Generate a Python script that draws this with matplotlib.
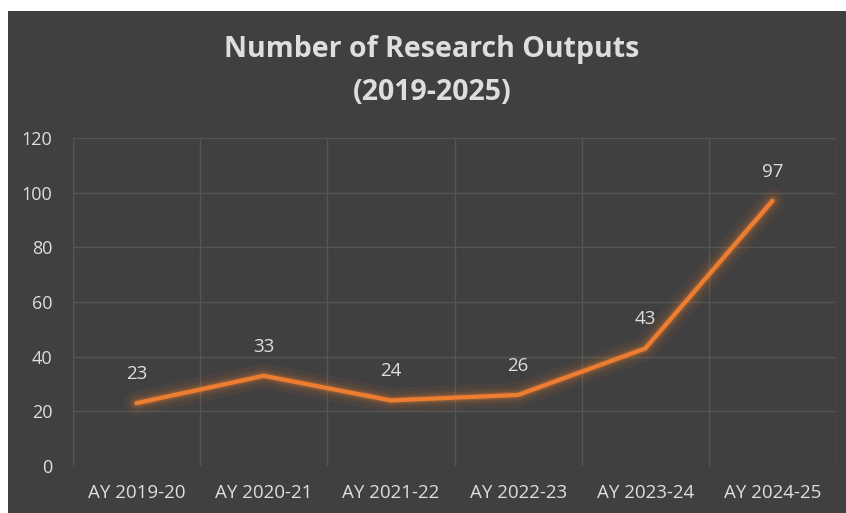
import matplotlib
matplotlib.use("Agg")
import matplotlib.pyplot as plt
import matplotlib.patheffects as pe

categories = ["AY 2019-20", "AY 2020-21", "AY 2021-22", "AY 2022-23", "AY 2023-24", "AY 2024-25"]
values = [23, 33, 24, 26, 43, 97]
y_ticks = [0, 20, 40, 60, 80, 100, 120]
title = "Number of Research Outputs\n(2019-2025)"

BG = "#404040"
GRID = "#555555"
TXT = "#dedede"
ORANGE = "#ED7D31"

plt.rcParams['font.family'] = ['Open Sans', 'DejaVu Sans']

fig = plt.figure(figsize=(8.46, 5.13), dpi=100, facecolor="white")
# dark chart background with white margins at top and left
bg = fig.add_axes([8/846, 0, 1 - 8/846, 1 - 11/513])
bg.set_facecolor(BG)
bg.set_xticks([]); bg.set_yticks([])
for s in bg.spines.values():
    s.set_visible(False)

ax = fig.add_axes([73/846, 1 - 466/513, (836 - 73)/846, (466 - 138)/513])
ax.set_facecolor("none")
x = list(range(len(categories)))
ax.set_xlim(-0.5, len(categories) - 0.5)
ax.set_ylim(0, 120)

for yt in y_ticks[1:]:
    ax.axhline(yt, color=GRID, lw=1.0, zorder=1)
for b in [i - 0.5 for i in range(len(categories) + 1)]:
    ax.axvline(b, color=GRID, lw=1.0, zorder=1, ymax=1.0)

glow = [pe.Stroke(linewidth=18, foreground=ORANGE, alpha=0.06),
        pe.Stroke(linewidth=12, foreground=ORANGE, alpha=0.08),
        pe.Stroke(linewidth=8, foreground=ORANGE, alpha=0.12),
        pe.Stroke(linewidth=5, foreground=ORANGE, alpha=0.25),
        pe.Normal()]
ax.plot(x, values, color=ORANGE, lw=3, solid_capstyle="round",
        solid_joinstyle="round", zorder=3, path_effects=glow)

for xi, v in zip(x, values):
    ax.annotate(str(v), (xi, v), xytext=(0, 21), textcoords="offset points",
                ha="center", va="center", color=TXT, fontsize=13.5)

ax.set_xticks(x)
ax.set_xticklabels(categories, color=TXT, fontsize=13.5)
ax.set_yticks(y_ticks)
ax.set_yticklabels([str(t) for t in y_ticks], color=TXT, fontsize=13)
ax.tick_params(axis="x", length=0, pad=13)
ax.tick_params(axis="y", length=0, pad=15)
for s in ax.spines.values():
    s.set_visible(False)

fig.text(432/846, 1 - 50/513, "Number of Research Outputs", ha="center", va="center",
         color=TXT, fontsize=20.5, fontweight="bold")
fig.text(432/846, 1 - 93/513, "(2019-2025)", ha="center", va="center",
         color=TXT, fontsize=20.5, fontweight="bold")

fig.savefig("out.png", dpi=100, facecolor="white")
